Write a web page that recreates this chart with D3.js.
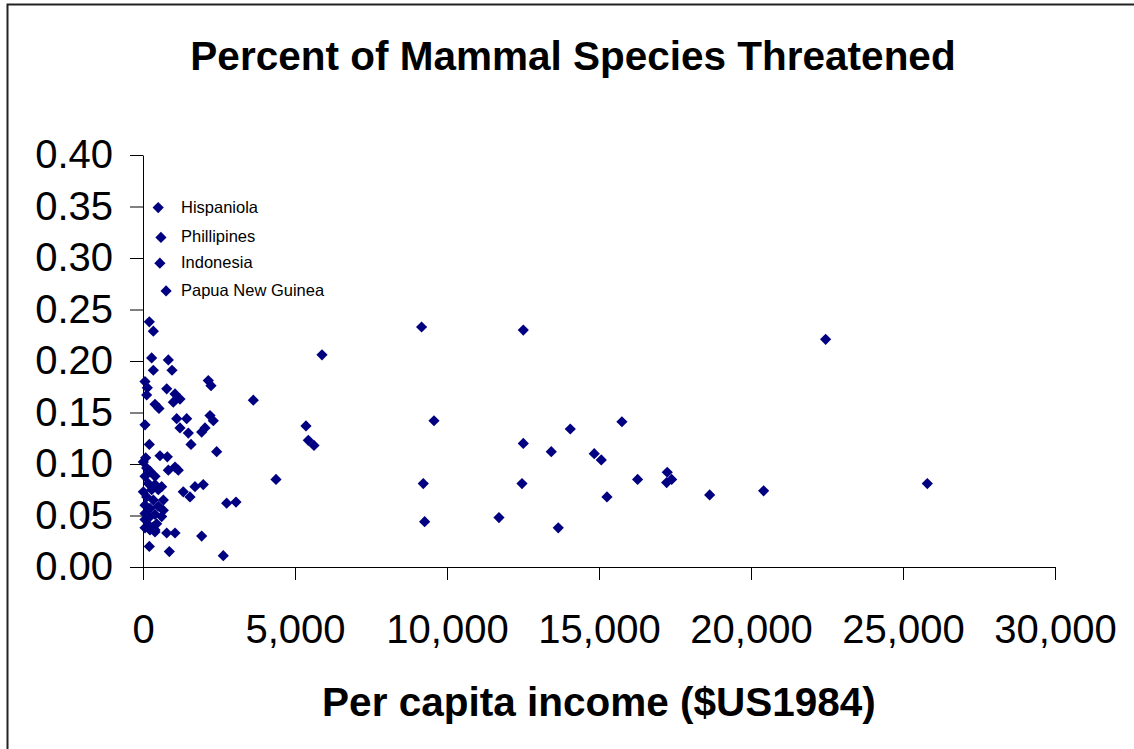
<!DOCTYPE html>
<html lang="en">
<head>
  <meta charset="UTF-8">
  <title>Percent of Mammal Species Threatened</title>
  <script src="https://d3js.org/d3.v7.min.js"></script>
  <style>
    body
    {
      margin: 0;
      padding: 0;
      background-color: #fff;
    }

    svg
    {
      display: block;
      font-family: "Liberation Sans", Arial, sans-serif;
    }

    .tick-label
    {
      font-size: 40px;
      fill: #000;
    }
  </style>
</head>
<body>
  <svg width="1134" height="749"></svg>
  <script>
    // per capita income ($US1984) and share of mammal species threatened
    const income = [
      9164, 12510, 5888, 3629, 9572, 5361, 5438, 5625, 12510, 13430,
      4375, 9220, 12467, 9265, 11709, 13660, 3059, 2752, 14055, 15754,
      14844, 15075, 16270, 17245, 17390, 17225, 15262, 18640, 22455, 20415,
      25800,
      208, 340, 285, 833, 340, 954, 66, 142, 780, 2148,
      2237, 121, 1053, 1217, 997, 395, 526, 66, 1108, 1437,
      1217, 2204, 2313, 1491, 1930, 2040, 208, 1579, 2423, 88,
      559, 800, 833, 1053, 1161, 1710, 1983, 1325, 1546, 1930,
      2641, 208, 866, 780, 1053, 395,
      11, 121, 230, 395, 66, 175, 395, 504, 11, 285,
      614, 121, 340, 669, 66, 230, 504, 669, 66, 230,
      395, 614, 66, 175, 340, 450, 66, 230, 395
    ];
    const threatened = [
      0.233, 0.230, 0.206, 0.162, 0.142, 0.137, 0.123, 0.118, 0.120, 0.112,
      0.085, 0.081, 0.081, 0.044, 0.048, 0.038, 0.063, 0.062, 0.134, 0.141,
      0.110, 0.104, 0.085, 0.092, 0.085, 0.082, 0.068, 0.070, 0.221, 0.074,
      0.081,
      0.238, 0.229, 0.203, 0.201, 0.191, 0.191, 0.180, 0.174, 0.173, 0.181,
      0.176, 0.167, 0.168, 0.163, 0.160, 0.158, 0.154, 0.138, 0.144, 0.144,
      0.135, 0.147, 0.142, 0.130, 0.131, 0.135, 0.119, 0.119, 0.112, 0.106,
      0.108, 0.107, 0.094, 0.097, 0.094, 0.078, 0.080, 0.073, 0.068, 0.030,
      0.011, 0.020, 0.015, 0.033, 0.033, 0.034,
      0.102, 0.096, 0.093, 0.088, 0.088, 0.081, 0.080, 0.075, 0.073, 0.075,
      0.078, 0.068, 0.065, 0.065, 0.060, 0.057, 0.059, 0.055, 0.052, 0.049,
      0.051, 0.049, 0.046, 0.041, 0.039, 0.042, 0.038, 0.036, 0.036
    ];

    // labelled points
    const labelNames = ["Hispaniola", "Phillipines", "Indonesia", "Papua New Guinea"];
    const labelIncome = [500, 590, 555, 760];
    const labelShare = [0.349, 0.320, 0.295, 0.268];

    const xTicks = [0, 5000, 10000, 15000, 20000, 25000, 30000];
    const yTicks = [0, 0.05, 0.10, 0.15, 0.20, 0.25, 0.30, 0.35, 0.40];

    const width = 1134;
    const height = 749;
    const margin = { top: 155, right: 79, bottom: 182, left: 143 };
    const color = "#000080";

    const svg = d3.select("svg");

    // outer chart frame (top and left edges show)
    svg.append("path")
      .attr("d", `M7.5,${height + 5}V4.5H${width + 5}`)
      .attr("fill", "none")
      .attr("stroke", "#222")
      .attr("stroke-width", 2);

    const x = d3.scaleLinear()
      .domain([0, 30000])
      .range([margin.left, width - margin.right]);

    const y = d3.scaleLinear()
      .domain([0, 0.40])
      .range([height - margin.bottom, margin.top]);

    const xAxis = svg.append("g")
      .attr("transform", `translate(0,${height - margin.bottom})`)
      .call(d3.axisBottom(x)
        .tickValues(xTicks)
        .tickSize(13)
        .tickSizeOuter(0)
        .tickPadding(35)
        .tickFormat(d3.format(",")));

    const yAxis = svg.append("g")
      .attr("transform", `translate(${margin.left},0)`)
      .call(d3.axisLeft(y)
        .tickValues(yTicks)
        .tickSize(13)
        .tickSizeOuter(0)
        .tickPadding(17)
        .tickFormat(d3.format(".2f")));

    [xAxis, yAxis].forEach(g => {
      g.attr("font-family", null).attr("font-size", null);
      g.select(".domain").attr("stroke", "#000");
      g.selectAll(".tick line").attr("stroke", "#000");
      g.selectAll(".tick text").attr("class", "tick-label");
    });

    const diamond = "M0,-5.6L5.6,0L0,5.6L-5.6,0Z";

    const points = income.map((v, i) => ({ income: v, share: threatened[i] }));

    svg.append("g")
      .selectAll("path")
      .data(points)
      .enter()
      .append("path")
      .attr("d", diamond)
      .attr("transform", d => `translate(${x(d.income)},${y(d.share)})`)
      .attr("fill", color);

    const labelled = labelNames.map((name, i) => ({ name, income: labelIncome[i], share: labelShare[i] }));

    const lab = svg.append("g")
      .selectAll("g")
      .data(labelled)
      .enter()
      .append("g");

    lab.append("path")
      .attr("d", diamond)
      .attr("transform", d => `translate(${x(d.income)},${y(d.share)})`)
      .attr("fill", color);

    lab.append("text")
      .attr("x", x(0) + 38)
      .attr("y", d => y(d.share) + 5)
      .attr("font-size", 16.5)
      .attr("fill", "#000")
      .text(d => d.name);

    svg.append("text")
      .attr("x", 573)
      .attr("y", 70)
      .attr("text-anchor", "middle")
      .attr("font-size", 40.5)
      .attr("font-weight", "bold")
      .text("Percent of Mammal Species Threatened");

    svg.append("text")
      .attr("x", (x(0) + x(30000)) / 2)
      .attr("y", 716)
      .attr("text-anchor", "middle")
      .attr("font-size", 40.5)
      .attr("font-weight", "bold")
      .text("Per capita income ($US1984)");
  </script>
</body>
</html>
